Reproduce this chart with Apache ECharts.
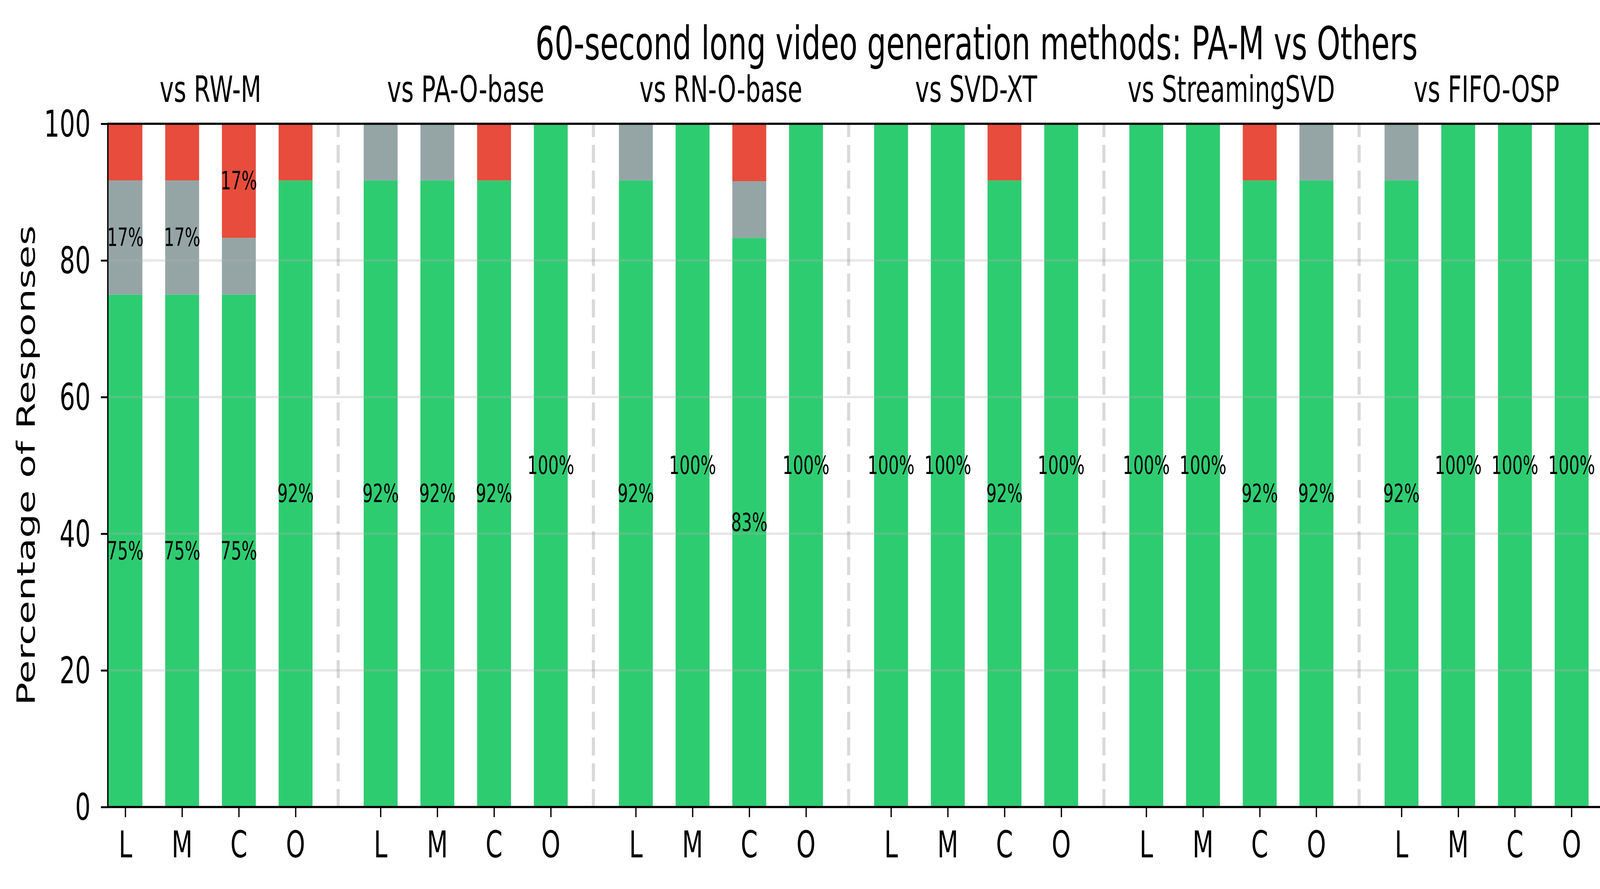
<!DOCTYPE html>
<html>
<head>
<meta charset="utf-8">
<script src="https://cdn.jsdelivr.net/npm/echarts@6/dist/echarts.min.js"></script>
<style>
html,body{margin:0;padding:0;background:#fff;overflow:hidden;}
#main{width:6231px;height:2277px;transform-origin:0 0;}
</style>
</head>
<body>
<div id="main"></div>
<script>
var groups = ['vs RW-M', 'vs PA-O-base', 'vs RN-O-base', 'vs SVD-XT', 'vs StreamingSVD', 'vs FIFO-OSP'];
var aspects = ['L', 'M', 'C', 'O'];
// percentage per bar, group by group, in L M C O order
var pamBetter   = [75, 75, 75, 91.7,   91.7, 91.7, 91.7, 100,   91.7, 100, 83.3, 100,   100, 100, 91.7, 100,   100, 100, 91.7, 91.7,   91.7, 100, 100, 100];
var tie         = [16.7, 16.7, 8.3, 0, 8.3, 8.3, 0, 0,          8.3, 0, 8.3, 0,         0, 0, 0, 0,           0, 0, 0, 8.3,           8.3, 0, 0, 0];
var otherBetter = [8.3, 8.3, 16.7, 8.3, 0, 0, 8.3, 0,           0, 0, 8.3, 0,           0, 0, 8.3, 0,         0, 0, 8.3, 0,           0, 0, 0, 0];

var FONT = 'DejaVu Sans';
var GROUP_STEP = 4.5;

var xPos = [];
var xNames = [];
var groupCenters = [];
var separators = [];
for (var g = 0; g < groups.length; g++) {
	for (var i = 0; i < aspects.length; i++) {
		xPos.push(g * GROUP_STEP + i);
		xNames.push(aspects[i]);
	}
	groupCenters.push(g * GROUP_STEP + 1.5);
	if (g < groups.length - 1) separators.push({xAxis: g * GROUP_STEP + 3.75});
}

function findName(v, positions, names) {
	for (var k = 0; k < positions.length; k++) {
		if (Math.abs(positions[k] - v) < 1e-6) return names[k];
	}
	return '';
}

// value first, position second, so the stack runs on the value
function makeBar(name, vals, color) {
	return {
		name: name,
		type: 'bar',
		stack: 'all',
		barWidth: 132,
		encode: {x: 1, y: 0},
		itemStyle: {color: color},
		label: {
			show: true,
			position: 'inside',
			color: '#000',
			fontSize: 64,
			fontFamily: FONT,
			textBorderWidth: 0,
			formatter: function (p) {
				var v = p.value[0];
				return v >= 10 ? Math.round(v) + '%' : '';
			}
		},
		data: vals.map(function (v, k) { return [v, xPos[k]]; })
	};
}

// the window may be narrower than the figure: fit the whole figure in it
var dom = document.getElementById('main');
var sx = (window.innerWidth || 6231) / 6231;
var sy = (window.innerHeight || 2277) / 2277;
dom.style.transform = 'scale(' + sx + ',' + sy + ')';

var myChart = echarts.init(dom, null, {renderer: 'svg'});
var series = [
	makeBar('PA-M better', pamBetter, '#2ecc71'),
	makeBar('Tie', tie, '#95a5a6'),
	makeBar('Other better', otherBetter, '#e74c3c')
];
series[0].markLine = {
	silent: true,
	symbol: ['none', 'none'],
	label: {show: false},
	lineStyle: {type: [46, 20], color: 'rgba(128,128,128,0.3)', width: 12},
	data: separators
};

var option = {
	animation: false,
	backgroundColor: '#fff',
	title: {
		text: '60-second long video generation methods: PA-M vs Others',
		left: 3803,
		top: 53,
		textAlign: 'center',
		padding: 0,
		textStyle: {fontSize: 117, fontWeight: 'normal', color: '#000', fontFamily: FONT}
	},
	grid: {left: 420, right: 0, top: 317, bottom: 210},
	xAxis: [
		{
			type: 'value',
			min: -0.31,
			max: 26,
			position: 'bottom',
			z: 6,
			axisLine: {show: true, onZero: false, lineStyle: {color: '#000', width: 5.5}},
			axisTick: {show: true, customValues: xPos, length: 26, lineStyle: {color: '#000', width: 5}},
			axisLabel: {
				customValues: xPos,
				formatter: function (v) { return findName(v, xPos, xNames); },
				fontSize: 95, color: '#000', fontFamily: FONT, margin: 48
			},
			splitLine: {show: false}
		},
		{
			type: 'value',
			min: -0.31,
			max: 26,
			position: 'top',
			z: 6,
			axisLine: {show: true, onZero: false, lineStyle: {color: '#000', width: 5.5}},
			axisTick: {show: false},
			axisLabel: {
				customValues: groupCenters,
				formatter: function (v) { return findName(v, groupCenters, groups); },
				fontSize: 93, color: '#000', fontFamily: FONT, margin: 41
			},
			splitLine: {show: false}
		}
	],
	yAxis: {
		type: 'value',
		min: 0,
		max: 100,
		interval: 20,
		z: 5,
		name: 'Percentage of Responses',
		nameLocation: 'middle',
		nameGap: 270,
		nameTextStyle: {fontSize: 98, color: '#000', fontFamily: FONT},
		axisLine: {show: true, onZero: false, lineStyle: {color: '#000', width: 5.5}},
		axisTick: {show: true, length: 27, lineStyle: {color: '#000', width: 5}},
		axisLabel: {fontSize: 95, color: '#000', fontFamily: FONT, margin: 67},
		splitLine: {show: true, lineStyle: {color: 'rgba(176,176,176,0.3)', width: 6}}
	},
	series: series
};
myChart.setOption(option);
</script>
</body>
</html>
